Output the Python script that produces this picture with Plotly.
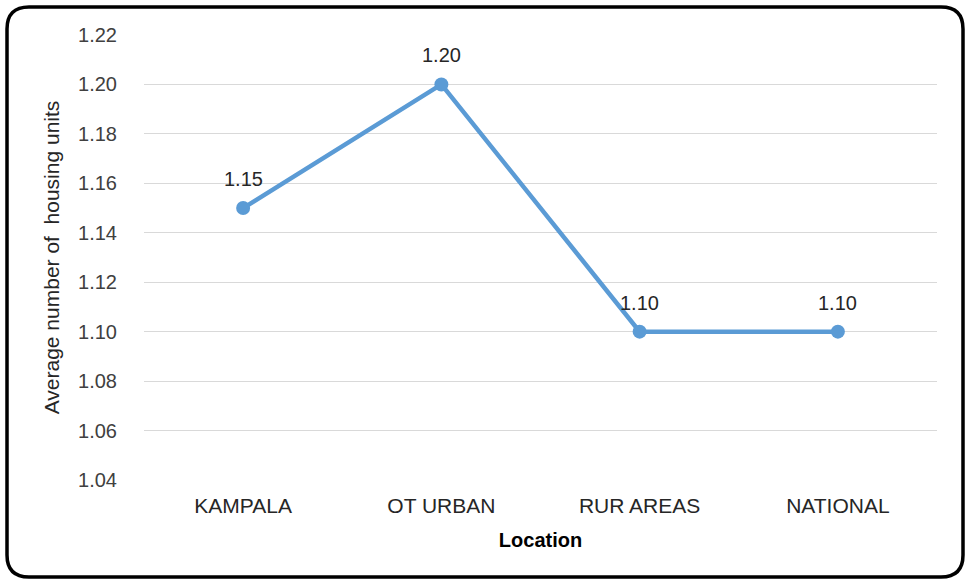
import plotly.graph_objects as go

categories = ["KAMPALA", "OT URBAN", "RUR AREAS", "NATIONAL"]
values = [1.15, 1.20, 1.10, 1.10]
value_labels = ["1.15", "1.20", "1.10", "1.10"]
y_ticks = [1.04, 1.06, 1.08, 1.10, 1.12, 1.14, 1.16, 1.18, 1.20, 1.22]

W, H = 969, 583
L, R, T, B = 144, 32, 35, 103
pw, ph = W - L - R, H - T - B

FONT = "Liberation Sans, Arial, sans-serif"

fig = go.Figure()
fig.add_trace(go.Scatter(
    x=categories, y=values, mode="lines+markers",
    line=dict(color="#5B9BD5", width=4.5),
    marker=dict(color="#5B9BD5", size=14),
    hoverinfo="skip", showlegend=False,
))

for c, v, t in zip(categories, values, value_labels):
    fig.add_annotation(x=c, y=v, text=t, showarrow=False, yshift=29,
                       font=dict(family=FONT, size=20, color="#262626"))

def px2paper(px, py):
    return (px - L) / pw, (H - B - py) / ph

# rounded border
x0, y0, x1, y1, r = 7, 7, 963, 577, 22
pts = [
    ("M", [(x0 + r, y0)]),
    ("L", [(x1 - r, y0)]),
    ("Q", [(x1, y0), (x1, y0 + r)]),
    ("L", [(x1, y1 - r)]),
    ("Q", [(x1, y1), (x1 - r, y1)]),
    ("L", [(x0 + r, y1)]),
    ("Q", [(x0, y1), (x0, y1 - r)]),
    ("L", [(x0, y0 + r)]),
    ("Q", [(x0, y0), (x0 + r, y0)]),
]
path = ""
for cmd, ps in pts:
    path += cmd + " " + " ".join("%.5f,%.5f" % px2paper(*p) for p in ps) + " "
path += "Z"
fig.add_shape(type="path", path=path, xref="paper", yref="paper",
              line=dict(color="#000000", width=3.5), fillcolor="rgba(0,0,0,0)")

fig.update_layout(
    width=W, height=H,
    margin=dict(l=L, r=R, t=T, b=B, autoexpand=False),
    paper_bgcolor="white", plot_bgcolor="white",
    font=dict(family=FONT, color="#404040"),
    xaxis=dict(
        type="category", range=[-0.5, 3.5], showgrid=False, zeroline=False,
        showline=False, ticks="", tickfont=dict(size=21, color="#262626"),
        ticklabelstandoff=11,
        title=dict(text="<b>Location</b>", font=dict(size=20, color="#000000"), standoff=16),
    ),
    yaxis=dict(
        range=[1.04, 1.22], tickvals=y_ticks, tickformat=".2f",
        showgrid=True, gridcolor="#D9D9D9", gridwidth=1, zeroline=False,
        showline=False, ticks="", tickfont=dict(size=20, color="#404040"),
        ticklabelstandoff=26,
        title=dict(text="Average number of\u00a0 housing units",
                   font=dict(size=21, color="#262626"), standoff=12),
    ),
)

fig.write_html("out.html", config={"displayModeBar": False},
               post_script="document.body.style.margin='0px';document.body.style.overflow='hidden';")
